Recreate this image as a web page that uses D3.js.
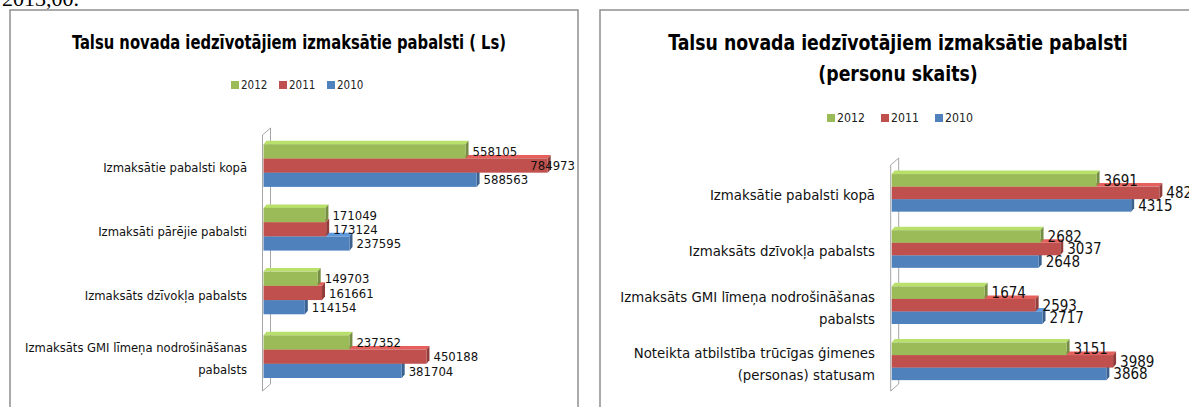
<!DOCTYPE html>
<html>
<head>
<meta charset="utf-8">
<script src="https://cdn.jsdelivr.net/npm/d3@7/dist/d3.min.js"></script>
<style>
  body { margin: 0; background: #fff; }
  svg { display: block; }
</style>
</head>
<body>
<script>
// Talsu novada pabalsti - two 3D style horizontal bar charts

// series (legend order, top bar first)
var years = ["2012", "2011", "2010"];
var colors = {"2012": "#9bbb59", "2011": "#c0504d", "2010": "#4f81bd"};

// left chart: amounts in Ls
var leftCategories = ["Izmaksātie pabalsti kopā", "Izmaksāti pārējie pabalsti", "Izmaksāts dzīvokļa pabalsts", "Izmaksāts GMI līmeņa nodrošināšanas\npabalsts"];
var left2012 = [558105, 171049, 149703, 237352];
var left2011 = [784973, 173124, 161661, 450188];
var left2010 = [588563, 237595, 114154, 381704];

// right chart: number of persons
var rightCategories = ["Izmaksātie pabalsti kopā", "Izmaksāts dzīvokļa pabalsts", "Izmaksāts GMI līmeņa nodrošināšanas\npabalsts", "Noteikta atbilstība trūcīgas ģimenes\n(personas) statusam"];
var right2012 = [3691, 2682, 1674, 3151];
var right2011 = [4822, 3037, 2593, 3989];
var right2010 = [4315, 2648, 2717, 3868];

var FONT = "'DejaVu Sans Condensed', 'Liberation Sans Narrow', sans-serif";

var svg = d3.select("body").append("svg").attr("width", 1189).attr("height", 407);

// leftover text of the page above the charts
svg.append("text").attr("x", 2).attr("y", 6)
  .attr("font-family", "'Liberation Serif', serif").attr("font-size", "22px")
  .text("2013,00.");

function drawChart(o) {
  var g = svg.append("g");

  // frame
  g.append("rect")
    .attr("x", o.frame[0]).attr("y", o.frame[1])
    .attr("width", o.frame[2]).attr("height", o.frame[3])
    .attr("fill", "#fff").attr("stroke", "#8f8f8f").attr("stroke-width", 1.5);

  // title, one or two lines (squeezed a bit so it looks like the narrow original)
  o.title.forEach(function(t, i) {
    g.append("text")
      .attr("transform", "translate(" + o.titleX + "," + (o.titleY + i * o.titleStep) + ") scale(" + o.titleSqueeze + ",1)")
      .attr("text-anchor", "middle")
      .attr("font-family", FONT).attr("font-weight", "bold")
      .attr("font-size", o.titleSize + "px")
      .text(t);
  });

  // legend
  var lg = g.append("g").attr("transform", "translate(" + o.legendX + "," + o.legendY + ")");
  years.forEach(function(y, i) {
    var it = lg.append("g").attr("transform", "translate(" + (i * o.legendStep) + ",0)");
    it.append("rect").attr("x", 0).attr("y", -8).attr("width", 8).attr("height", 8).attr("fill", colors[y]);
    it.append("text").attr("x", 10).attr("y", 0)
      .attr("font-family", FONT).attr("font-size", o.legendSize + "px").attr("fill", "#222")
      .text(y);
  });

  var x = d3.scaleLinear().domain(o.xDomain).range(o.xRange);
  var y0 = d3.scaleBand().domain(o.categories).range(o.yRange).paddingInner(0.33).paddingOuter(0.165);
  var y1 = d3.scaleBand().domain(years).range([0, y0.bandwidth()]);

  // the thin 3D wall at the value zero
  var wx = o.xRange[0] - 1, wd = 8, wh = 7;
  g.append("path")
    .attr("d", "M" + wx + "," + o.wall[1] + "L" + wx + "," + o.wall[0] +
      "L" + (wx + wd) + "," + (o.wall[0] - wh) + "L" + (wx + wd) + "," + (o.wall[1] - wh) +
      "L" + wx + "," + o.wall[1] + "Z")
    .attr("fill", "#fff").attr("stroke", "#a6a6a6").attr("stroke-width", 1);

  var dx = 3, dy = 3.5;
  var rows = [];
  o.categories.forEach(function(c, i) {
    years.forEach(function(yr) {
      rows.push({cat: c, year: yr, value: o.values[yr][i]});
    });
  });

  // bottom bars first so the upper ones cover their top faces
  var order = rows.slice().reverse();
  var bars = g.append("g").selectAll("g").data(order).enter().append("g");
  bars.each(function(d) {
    var b = d3.select(this);
    var x0 = x(0), x1 = x(d.value);
    var top = y0(d.cat) + y1(d.year), h = y1.bandwidth();
    var base = d3.color(colors[d.year]);
    b.append("path")
      .attr("d", "M" + x0 + "," + top + "L" + (x0 + dx) + "," + (top - dy) + "L" + (x1 + dx) + "," + (top - dy) + "L" + x1 + "," + top + "Z")
      .attr("fill", base.brighter(0.5));
    b.append("path")
      .attr("d", "M" + x1 + "," + top + "L" + (x1 + dx) + "," + (top - dy) + "L" + (x1 + dx) + "," + (top + h - dy) + "L" + x1 + "," + (top + h) + "Z")
      .attr("fill", base.darker(0.8));
    b.append("rect")
      .attr("x", x0).attr("y", top).attr("width", x1 - x0).attr("height", h)
      .attr("fill", colors[d.year]);
  });

  // value labels
  g.append("g").selectAll("text").data(rows).enter().append("text")
    .attr("x", function(d) { return x(d.value) + dx + 4; })
    .attr("y", function(d) { return y0(d.cat) + y1(d.year) + y1.bandwidth() / 2; })
    .attr("dy", "0.36em")
    .attr("font-family", FONT).attr("font-size", o.valueSize + "px").attr("fill", "#111")
    .text(function(d) { return d.value; })
    .each(function() {
      // keep labels inside the frame when asked
      if (!o.clampRight) return;
      var t = d3.select(this);
      var w = this.getComputedTextLength();
      if (+t.attr("x") + w > o.clampRight) t.attr("x", o.clampRight - w);
    });

  // category labels
  g.append("g").selectAll("text").data(o.categories).enter().append("text")
    .attr("text-anchor", "end")
    .attr("font-family", FONT).attr("font-size", o.catSize + "px").attr("fill", "#111")
    .each(function(c) {
      var lines = c.split("\n");
      var t = d3.select(this);
      var mid = y0(c) + y0.bandwidth() / 2 + 2;
      lines.forEach(function(l, i) {
        t.append("tspan")
          .attr("x", o.catX)
          .attr("y", mid + (i - (lines.length - 1) / 2) * o.lineStep)
          .attr("dy", "0.36em")
          .text(l);
      });
    });
}

drawChart({
  frame: [10, 10, 568, 420],
  title: ["Talsu novada iedzīvotājiem izmaksātie pabalsti ( Ls)"],
  titleX: 289, titleY: 49, titleStep: 0, titleSize: 19, titleSqueeze: 0.865,
  legendX: 231, legendY: 89, legendStep: 48, legendSize: 11.5,
  categories: leftCategories,
  values: {"2012": left2012, "2011": left2011, "2010": left2010},
  xDomain: [0, 800000], xRange: [263.5, 553.1],
  yRange: [133.7, 388.5],
  wall: [135, 391],
  catX: 247, catSize: 12.9, lineStep: 22, valueSize: 13,
  clampRight: 575
});

drawChart({
  frame: [600, 10, 620, 420],
  title: ["Talsu novada iedzīvotājiem izmaksātie pabalsti", "(personu skaits)"],
  titleX: 898, titleY: 50, titleStep: 31, titleSize: 22, titleSqueeze: 0.875,
  legendX: 827, legendY: 122, legendStep: 54, legendSize: 12.2,
  categories: rightCategories,
  values: {"2012": right2012, "2011": right2011, "2010": right2010},
  xDomain: [0, 5000], xRange: [891.7, 1169.2],
  yRange: [164.8, 389.4],
  wall: [165, 391],
  catX: 875, catSize: 14.8, lineStep: 22, valueSize: 15,
  clampRight: null
});
</script>
</body>
</html>
